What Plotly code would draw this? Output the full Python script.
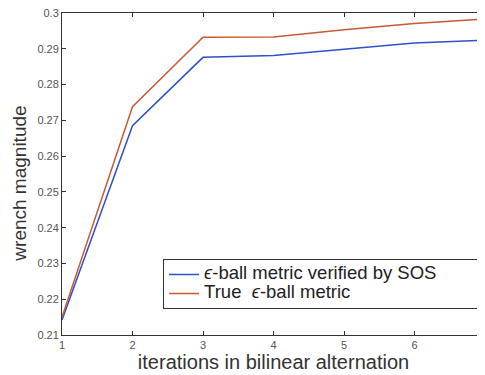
import plotly.graph_objects as go

iterations = [1, 2, 3, 4, 5, 6, 7]
sos_metric = [0.2142, 0.2685, 0.2876, 0.2881, 0.2899, 0.2916, 0.2924]
true_metric = [0.2150, 0.2738, 0.2932, 0.2933, 0.2953, 0.2971, 0.2983]
x_ticks = [1, 2, 3, 4, 5, 6, 7]
y_ticks = [0.21, 0.22, 0.23, 0.24, 0.25, 0.26, 0.27, 0.28, 0.29, 0.3]
y_ticklabels = ["0.21", "0.22", "0.23", "0.24", "0.25", "0.26", "0.27", "0.28", "0.29", "0.3"]
series_names = ["<i>ϵ</i>-ball metric verified by SOS", "True  <i>ϵ</i>-ball metric"]

FONT = "Liberation Sans, Arial"
LEG = '<span style="font-size:18.5px">{}</span>'
PAD = "\u00a0" * 7

fig = go.Figure()
fig.add_trace(go.Scatter(x=iterations, y=sos_metric, mode="lines",
                         line=dict(color="#2f50c8", width=1.5),
                         name=LEG.format(series_names[0] + PAD)))
fig.add_trace(go.Scatter(x=iterations, y=true_metric, mode="lines",
                         line=dict(color="#c65a34", width=1.5),
                         name=LEG.format(series_names[1])))

axis_common = dict(showline=True, linecolor="#333", linewidth=1, mirror="ticks",
                   ticks="inside", ticklen=4, tickcolor="#333", showgrid=False,
                   zeroline=False, automargin=False, ticklabeloverflow="allow",
                   tickfont=dict(family=FONT, size=11, color="#555"))

fig.update_xaxes(range=[1, 7], tickvals=x_ticks,
                 title=dict(text="iterations in bilinear alternation", standoff=3,
                            font=dict(family=FONT, size=20, color="#333")),
                 **axis_common)
fig.update_yaxes(range=[0.21, 0.3], tickvals=y_ticks, ticktext=y_ticklabels,
                 **axis_common)

fig.add_annotation(text="wrench magnitude", textangle=-90, showarrow=False,
                   xref="paper", yref="paper", x=-0.0993, y=0.47,
                   xanchor="center", yanchor="middle",
                   font=dict(family=FONT, size=19, color="#333"))

fig.update_layout(
    width=477, height=367,
    margin=dict(l=54, r=0, t=5, b=40),
    plot_bgcolor="white", paper_bgcolor="white",
    showlegend=True,
    legend=dict(x=0.239, y=0.236, xanchor="left", yanchor="top",
                bordercolor="#333", borderwidth=1, bgcolor="white",
                font=dict(family=FONT, size=12, color="#222"),
                tracegroupgap=0, itemwidth=30),
)

fig.write_html("out.html")
